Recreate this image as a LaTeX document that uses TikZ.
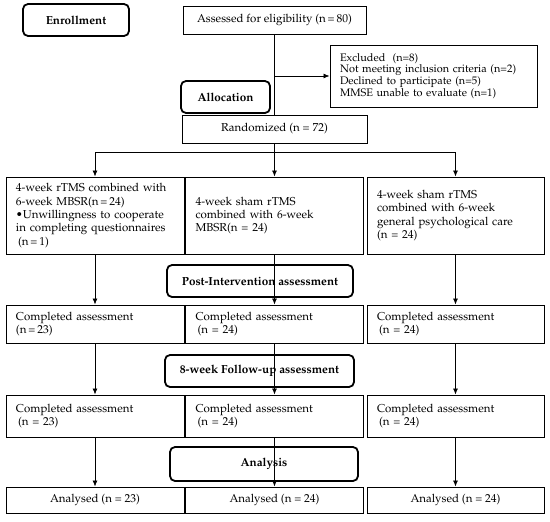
\documentclass[tikz,border=0pt]{standalone}
\usepackage[T1]{fontenc}
\usepackage{mathpazo}
\usetikzlibrary{arrows.meta, positioning}

\begin{document}
\begin{tikzpicture}[
            x = 1pt, y = -1pt, % pixel grid, y pointing down
            > = {Latex[length=6pt, width=5pt]}, % arrow head style
            line width = 0.7pt, % line style
            font = \fontsize{11.5}{13.4}\selectfont,
        ]
 \tikzstyle{boxstyle}=[
            shape = rectangle,
            draw = black,
            line width = 1pt,
            align = left,
            inner xsep = 10pt,
            inner ysep = 0pt
        ]
 \tikzstyle{centerbox}=[
            boxstyle,
            align = center,
            inner xsep = 0pt
        ]
 \tikzstyle{stagestyle}=[
            shape = rectangle,
            draw = black,
            rounded corners = 5pt,
            line width = 1.8pt,
            fill = white,
            font = \fontsize{11.7}{13}\selectfont\bfseries
        ]
\useasboundingbox (0,0) rectangle (550,522);
% enrollment
\node[stagestyle, minimum width=106pt, minimum height=32pt](enroll) at (76,20) {Enrollment};
\node[centerbox, minimum width=183pt, minimum height=28pt](assess) at (274.5,20) {Assessed for eligibility (n\,=\,80)};
\node[boxstyle, text width=187pt, minimum height=62pt, font=\fontsize{10.9}{11.8}\selectfont](excl) at (433.5,76)
    {Excluded\ \ (n=8)\\Not meeting inclusion criteria (n=2)\\Declined to participate (n=5)\\MMSE unable to evaluate (n=1)};
% allocation
\node[stagestyle, minimum width=89pt, minimum height=32pt](alloc) at (225.5,97) {Allocation};
\node[centerbox, minimum width=185pt, minimum height=28pt](rand) at (274.5,129) {Randomized (n = 72)};
\coordinate (split) at (274.5,152);
\node[boxstyle, text width=158pt, minimum height=77pt](grpA) at (95,215.5)
    {4-week rTMS combined with\\6-week MBSR(n\,=\,24)\\\textbullet Unwillingness to cooperate\\in completing questionnaires\\\hspace{2pt}(n\,=\,1)};
\node[boxstyle, text width=158pt, minimum height=77pt](grpB) at (274.5,215.5)
    {4-week sham rTMS\\combined with 6-week\\MBSR(n = 24)};
\node[boxstyle, text width=157pt, minimum height=77pt](grpC) at (455.5,215.5)
    {4-week sham rTMS\\combined with 6-week\\general psychological care\\(n = 24)};
% post-intervention
\node[stagestyle, minimum width=186pt, minimum height=32pt](post) at (260,281) {Post-Intervention assessment};
\node[boxstyle, text width=158pt, minimum height=38pt](compA) at (95,324) {Completed assessment\\(n\,=\,23)};
\node[boxstyle, text width=158pt, minimum height=38pt](compB) at (274.5,324) {Completed assessment\\\hspace{2pt}(n = 24)};
\node[boxstyle, text width=157pt, minimum height=38pt](compC) at (455.5,324) {Completed assessment\\\hspace{2pt}(n = 24)};
% follow-up
\node[stagestyle, minimum width=189pt, minimum height=32pt](follow) at (259.5,371) {8-week Follow-up assessment};
\node[boxstyle, text width=158pt, minimum height=42pt](fupA) at (95,416) {Completed assessment\\\hspace{2pt}(n = 23)};
\node[boxstyle, text width=158pt, minimum height=42pt](fupB) at (274.5,416) {Completed assessment\\\hspace{2pt}(n = 24)};
\node[boxstyle, text width=157pt, minimum height=42pt](fupC) at (455.5,416) {Completed assessment\\\hspace{2pt}(n = 24)};
% analysis
\node[stagestyle, minimum width=188pt, minimum height=34pt](analysis) at (264,464) {Analysis};
\node[centerbox, minimum width=178pt, minimum height=26pt](anaA) at (95,500) {Analysed (n = 23)};
\node[centerbox, minimum width=178pt, minimum height=26pt](anaB) at (274.5,500) {Analysed (n = 24)};
\node[centerbox, minimum width=177pt, minimum height=26pt](anaC) at (455.5,500) {Analysed (n = 24)};
% connectors
\draw (assess.south) -- (rand.north);
\draw[->] (assess.south |- excl.west) -- (excl.west);
\draw (rand.south) -- (split);
\draw[->] (split) -| (grpA.north);
\draw[->] (split) -- (grpB.north);
\draw[->] (split) -| (grpC.north);
\draw[->] (grpA.south) -- (compA.north);
\draw[->] (grpB.south) -- (compB.north);
\draw[->] (grpC.south) -- (compC.north);
\draw[->] (compA.south) -- (fupA.north);
\draw[->] (compB.south) -- (fupB.north);
\draw[->] (compC.south) -- (fupC.north);
\draw[->] (fupA.south) -- (anaA.north);
\draw[->] (fupB.south) -- (anaB.north);
\draw[->] (fupC.south) -- (anaC.north);
\end{tikzpicture}
\end{document}
